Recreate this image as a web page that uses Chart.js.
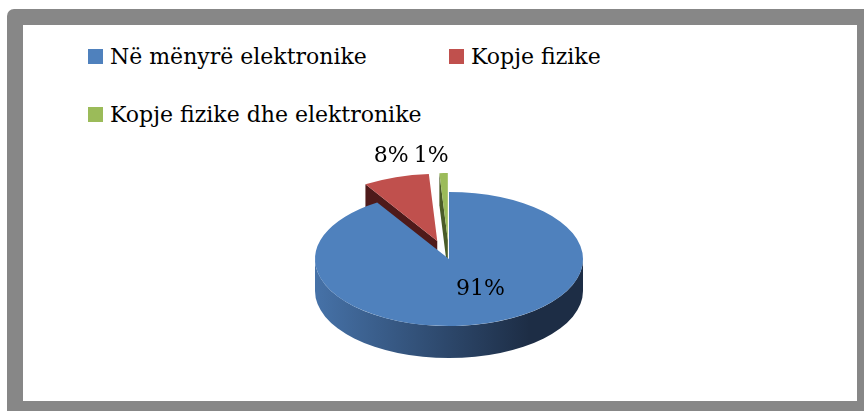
<!DOCTYPE html>
<html>
<head>
<meta charset="utf-8">
<script src="https://cdn.jsdelivr.net/npm/chart.js@4"></script>
<style>
  body { margin: 0; width: 864px; height: 411px; overflow: hidden; background: #fff; position: relative; font-family: "DejaVu Serif", serif; }
  #moldura { position: absolute; left: 7px; top: 9px; width: 900px; height: 450px; background: #878787; border-top-left-radius: 7px; }
  #painel { position: absolute; left: 23px; top: 25px; width: 834px; height: 376px; background: #fff; }
  #legenda { position: absolute; left: 88px; top: 44px; display: grid; grid-template-columns: 361px auto; grid-auto-rows: 58px; font-size: 22px; line-height: 26px; color: #000; white-space: nowrap; }
  .caixa { display: inline-block; width: 15px; height: 15px; margin-right: 7px; }
  canvas { position: absolute; left: 0; top: 0; }
</style>
</head>
<body>
<div id="moldura"></div>
<div id="painel"></div>
<div id="legenda"></div>
<canvas id="grafico" width="864" height="411"></canvas>

<script>
/* =========================
   DADOS
========================= */
const categorias = ["Në mënyrë elektronike", "Kopje fizike", "Kopje fizike dhe elektronike"];
const valores = [91, 8, 1];

/* =========================
   ESTILO
========================= */
const cores = ["#4f81bd", "#c0504d", "#9bbb59"];
const ladoClaro = ["#4672a8", "#7a2c2a", "#6b8238"];
const ladoEscuro = ["#1d2d45", "#4e1a1a", "#4a5c28"];
const destaque = [0, 38, 38];          // fatia afastada (px)
const ACHATAR = 0.5;                   // elipse do topo
const ALTURA = 32;                     // espessura da pizza
const raioRotulo = [0.47, 1.33, 1.33];
const ajusteRotulo = [[14, 0], [9, 0], [-11, 5]];

/* =========================
   PIZZA 3D
========================= */
const pizza3d = {
  id: "pizza3d",
  beforeDatasetDraw(chart, args) {
    const ctx = chart.ctx;
    const arcos = args.meta.data;
    const cx = arcos[0].x, cy = arcos[0].y;
    const rx = arcos[0].outerRadius, ry = rx * ACHATAR;

    // laterais
    arcos.forEach((arco, i) => {
      const meio = (arco.startAngle + arco.endAngle) / 2;
      const x0 = cx + Math.cos(meio) * destaque[i];
      const y0 = cy + Math.sin(meio) * destaque[i] * ACHATAR;

      const faces = [];
      if (Math.cos(arco.startAngle) < -0.01) faces.push(arco.startAngle);
      if (Math.cos(arco.endAngle) > 0.01) faces.push(arco.endAngle);
      faces.forEach(a => {
        const px = x0 + rx * Math.cos(a), py = y0 + ry * Math.sin(a);
        ctx.beginPath();
        ctx.moveTo(x0, y0);
        ctx.lineTo(px, py);
        ctx.lineTo(px, py + ALTURA);
        ctx.lineTo(x0, y0 + ALTURA);
        ctx.closePath();
        ctx.fillStyle = ladoEscuro[i];
        ctx.fill();
      });

      const a1 = Math.max(arco.startAngle, 0), a2 = Math.min(arco.endAngle, Math.PI);
      if (a2 > a1) {
        const grad = ctx.createLinearGradient(x0 - rx, 0, x0 + rx, 0);
        grad.addColorStop(0, ladoClaro[i]);
        grad.addColorStop(0.8, ladoEscuro[i]);
        grad.addColorStop(1, ladoEscuro[i]);
        ctx.beginPath();
        ctx.ellipse(x0, y0, rx, ry, 0, a1, a2);
        ctx.ellipse(x0, y0 + ALTURA, rx, ry, 0, a2, a1, true);
        ctx.closePath();
        ctx.fillStyle = grad;
        ctx.fill();
      }
    });

    // topo
    arcos.forEach((arco, i) => {
      const meio = (arco.startAngle + arco.endAngle) / 2;
      ctx.save();
      ctx.translate(cx, cy);
      ctx.scale(1, ACHATAR);
      ctx.translate(-cx, -cy);
      ctx.translate(Math.cos(meio) * destaque[i], Math.sin(meio) * destaque[i]);
      arco.draw(ctx);
      ctx.restore();
    });
    return false;
  },
  afterDatasetsDraw(chart) {
    const ctx = chart.ctx;
    const arcos = chart.getDatasetMeta(0).data;
    const cx = arcos[0].x, cy = arcos[0].y;
    const rx = arcos[0].outerRadius;
    ctx.save();
    ctx.font = "22px 'DejaVu Serif'";
    ctx.fillStyle = "#000";
    ctx.textAlign = "center";
    ctx.textBaseline = "middle";
    arcos.forEach((arco, i) => {
      const meio = (arco.startAngle + arco.endAngle) / 2;
      const x0 = cx + Math.cos(meio) * destaque[i];
      const y0 = cy + Math.sin(meio) * destaque[i] * ACHATAR;
      const r = rx * raioRotulo[i];
      const x = x0 + Math.cos(meio) * r + ajusteRotulo[i][0];
      const y = y0 + Math.sin(meio) * r * ACHATAR + ajusteRotulo[i][1];
      ctx.fillText(valores[i] + "%", x, y);
    });
    ctx.restore();
  }
};

/* =========================
   LEGENDA HTML
========================= */
const legendaHtml = {
  id: "legendaHtml",
  afterUpdate(chart) {
    const caixa = document.getElementById("legenda");
    caixa.innerHTML = "";
    const itens = chart.options.plugins.legend.labels.generateLabels(chart);
    itens.forEach(item => {
      const div = document.createElement("div");
      div.innerHTML = `<span class="caixa" style="background:${item.fillStyle}"></span>${item.text}`;
      caixa.appendChild(div);
    });
  }
};

/* =========================
   GRÁFICO
========================= */
new Chart(document.getElementById("grafico"), {
  type: "pie",
  data: {
    labels: categorias,
    datasets: [{
      data: valores,
      backgroundColor: cores,
      borderWidth: 0,
      radius: 134
    }]
  },
  options: {
    responsive: false,
    animation: false,
    layout: { padding: { left: 249, right: 215, top: 159, bottom: 52 } },
    plugins: {
      legend: { display: false },
      tooltip: { enabled: false }
    }
  },
  plugins: [pizza3d, legendaHtml]
});
</script>
</body>
</html>
